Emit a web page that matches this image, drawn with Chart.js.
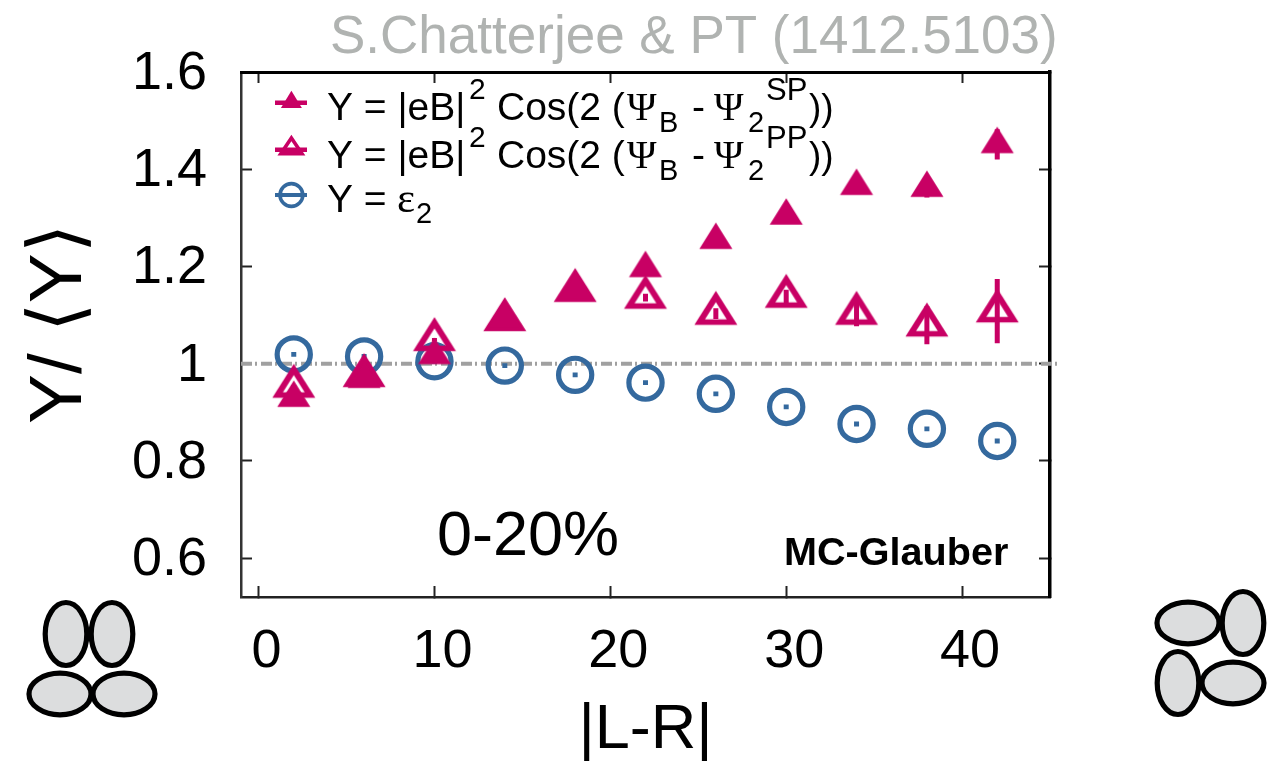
<!DOCTYPE html>
<html>
<head>
<meta charset="utf-8">
<title>Y / mean Y vs |L-R|</title>
<script src="https://cdn.jsdelivr.net/npm/chart.js@4/dist/chart.umd.js"></script>
<style>
    html, body { margin: 0; padding: 0; background: #fff; }
    canvas { display: block; }
</style>
</head>
<body>
<canvas id="chart" width="1286" height="768"></canvas>
<script>
// values
var lrValues = [2, 6, 10, 14, 18, 22, 26, 30, 34, 38, 42];
var spValues = [0.929, 0.968, 1.017, 1.090, 1.150, 1.196, 1.254, 1.304, 1.365, 1.361, 1.451];
var spErrors = [0.003, 0.003, 0.004, 0.004, 0.005, 0.008, 0.010, 0.012, 0.015, 0.019, 0.031];
var ppValues = [0.953, 0.975, 1.049, 1.090, 1.150, 1.136, 1.103, 1.138, 1.103, 1.079, 1.108];
var ppErrors = [0.003, 0.003, 0.004, 0.005, 0.006, 0.008, 0.011, 0.014, 0.026, 0.039, 0.066];
var eccValues = [1.019, 1.015, 1.005, 0.996, 0.977, 0.961, 0.938, 0.911, 0.876, 0.866, 0.841];
var eccErrors = [0.005, 0.005, 0.005, 0.005, 0.005, 0.005, 0.005, 0.005, 0.005, 0.005, 0.005];
var refLineX = [-1, 45.5];
var refLineY = [1, 1];

var xTicks = [0, 10, 20, 30, 40];
var yTicks = [0.6, 0.8, 1, 1.2, 1.4, 1.6];
var yTickLabels = ['0.6', '0.8', '1', '1.2', '1.4', '1.6'];

var MAGENTA = '#c80064';
var BLUE = '#34699e';
var FONT = '"Liberation Sans", Arial, sans-serif';
var SERIF = '"Liberation Serif", "DejaVu Serif", serif';

Chart.defaults.font.family = FONT;
Chart.defaults.color = '#000';

// gnuplot triangles are wider than equilateral ones, so build the marker here.
// The middle of the canvas is the data point, which sits low in the triangle.
function triangleMarker(halfWidth, up, down, lineWidth) {
    var size = Math.ceil(2 * Math.max(halfWidth, up, down)) + 2;
    var c = document.createElement('canvas');
    c.width = size;
    c.height = size;
    var ctx = c.getContext('2d');
    ctx.translate(size / 2, size / 2);
    trianglePath(ctx, halfWidth, up, down, lineWidth);
    return c;
}

function trianglePath(ctx, halfWidth, up, down, lineWidth) {
    ctx.beginPath();
    ctx.moveTo(0, -up);
    ctx.lineTo(halfWidth, down);
    ctx.lineTo(-halfWidth, down);
    ctx.closePath();
    ctx.fillStyle = MAGENTA;
    ctx.fill();
    if (lineWidth) {
        // punch out the middle
        var k = 1 - lineWidth / ((up + down) / 3);
        var cy = (-up + down + down) / 3;
        ctx.globalCompositeOperation = 'destination-out';
        ctx.beginPath();
        ctx.moveTo(0, cy + (-up - cy) * k);
        ctx.lineTo(halfWidth * k, cy + (down - cy) * k);
        ctx.lineTo(-halfWidth * k, cy + (down - cy) * k);
        ctx.closePath();
        ctx.fill();
        ctx.globalCompositeOperation = 'source-over';
    }
}

var filledMarker = triangleMarker(16.5, 17.7, 8.8, 0);
var hollowMarker = triangleMarker(21.5, 22.7, 11.3, 5.6);

// error bars as short line pieces, split by empty points
function errorBars(values, errors) {
    var pts = [];
    lrValues.forEach(function(x, i) {
        pts.push({ x: x, y: values[i] - errors[i] });
        pts.push({ x: x, y: values[i] + errors[i] });
        pts.push({ x: x, y: null });
    });
    return pts;
}

function points(values) {
    return lrValues.map(function(x, i) { return { x: x, y: values[i] }; });
}

function barDataset(values, errors, color, order) {
    return {
        type: 'line',
        data: errorBars(values, errors),
        borderColor: color,
        borderWidth: 5,
        pointRadius: 0,
        spanGaps: false,
        order: order
    };
}

function drawText(ctx, text, x, y, size, font) {
    ctx.font = (font && font.bold ? 'bold ' : '') + size + 'px ' + (font && font.family ? font.family : FONT);
    ctx.fillText(text, x, y);
}

function drawLegendRow(ctx, y, sup) {
    drawText(ctx, 'Y = |eB|', 327, y, 39);
    drawText(ctx, '2', 469, y - 21, 30);
    drawText(ctx, 'Cos(2 (', 497, y, 39);
    drawText(ctx, 'Ψ', 627, y, 40, { family: SERIF });
    drawText(ctx, 'B', 659, y + 12, 29);
    drawText(ctx, '-', 692, y, 39);
    drawText(ctx, 'Ψ', 714, y, 40, { family: SERIF });
    drawText(ctx, '2', 748, y + 12, 29);
    drawText(ctx, sup, 766, y - 20, 31);
    drawText(ctx, '))', 809, y, 37);
}

function drawEllipse(ctx, x, y, rx, ry) {
    ctx.beginPath();
    ctx.ellipse(x, y, rx, ry, 0, 0, Math.PI * 2);
    ctx.fillStyle = '#dcddde';
    ctx.fill();
    ctx.lineWidth = 5.2;
    ctx.strokeStyle = '#000';
    ctx.stroke();
}

// everything that is not a data mark: title, legend, notes, the two sketches
var overlay = {
    id: 'overlay',
    afterDraw: function(chart) {
        var ctx = chart.ctx;
        ctx.save();
        ctx.textAlign = 'left';
        ctx.textBaseline = 'alphabetic';

        ctx.fillStyle = '#b0b3b1';
        drawText(ctx, 'S.Chatterjee & PT (1412.5103)', 330, 53, 53);

        ctx.fillStyle = '#000';
        drawText(ctx, '0-20%', 437, 555, 63);
        drawText(ctx, 'MC-Glauber', 784, 565, 39.6, { bold: true });

        drawLegendRow(ctx, 120, 'SP');
        drawLegendRow(ctx, 168, 'PP');
        drawText(ctx, 'Y = ', 327, 212, 39);
        drawText(ctx, 'ε', 397, 212, 43, { family: SERIF });
        drawText(ctx, '2', 416, 223, 29);

        // legend markers
        ctx.fillStyle = MAGENTA;
        ctx.fillRect(275, 100.5, 32, 4.5);
        ctx.fillRect(275, 147.5, 32, 4.5);
        ctx.save();
        ctx.translate(291.4, 102);
        trianglePath(ctx, 10.5, 11.3, 6, 0);
        ctx.restore();
        ctx.lineWidth = 3.6;
        ctx.strokeStyle = MAGENTA;
        ctx.lineJoin = 'miter';
        ctx.beginPath();
        ctx.moveTo(291.4, 138);
        ctx.lineTo(302, 153.8);
        ctx.lineTo(280.8, 153.8);
        ctx.closePath();
        ctx.stroke();
        ctx.strokeStyle = BLUE;
        ctx.beginPath();
        ctx.arc(291.4, 195, 11.4, 0, Math.PI * 2);
        ctx.stroke();
        ctx.fillStyle = BLUE;
        ctx.fillRect(275, 193, 32, 4);

        // left sketch
        drawEllipse(ctx, 66, 634, 20.8, 31.5);
        drawEllipse(ctx, 112, 634, 20.8, 31.5);
        drawEllipse(ctx, 60, 694, 31, 20.8);
        drawEllipse(ctx, 124, 694, 31, 20.8);
        // right sketch
        drawEllipse(ctx, 1188, 623, 31, 20.8);
        drawEllipse(ctx, 1243, 623, 20.8, 31.5);
        drawEllipse(ctx, 1178, 683, 20.8, 31.5);
        drawEllipse(ctx, 1233, 683, 31, 20.8);
        ctx.restore();
    }
};

function axisGrid() {
    return { drawOnChartArea: false, drawTicks: true, tickLength: -11, tickWidth: 2, tickColor: '#222' };
}

var ctx = document.getElementById('chart').getContext('2d');
new Chart(ctx, {
    type: 'line',
    data: {
        datasets: [
            {
                label: 'SP',
                data: points(spValues),
                showLine: false,
                pointStyle: filledMarker,
                order: 1
            },
            barDataset(spValues, spErrors, MAGENTA, 2),
            {
                label: 'PP',
                data: points(ppValues),
                showLine: false,
                pointStyle: hollowMarker,
                order: 3
            },
            barDataset(ppValues, ppErrors, MAGENTA, 4),
            {
                label: 'ecc',
                data: points(eccValues),
                showLine: false,
                pointStyle: 'circle',
                pointRadius: 16.6,
                pointBorderWidth: 5.2,
                pointBorderColor: BLUE,
                pointBackgroundColor: 'rgba(0,0,0,0)',
                order: 5
            },
            barDataset(eccValues, eccErrors, BLUE, 6),
            {
                label: 'one',
                data: refLineX.map(function(x, i) { return { x: x, y: refLineY[i] }; }),
                borderColor: '#a0a0a0',
                borderWidth: 4,
                borderDash: [11, 3, 2, 4],
                pointRadius: 0,
                clip: false,
                order: 7
            }
        ]
    },
    options: {
        responsive: false,
        animation: false,
        layout: { padding: 0 },
        plugins: { legend: { display: false }, title: { display: false }, tooltip: { enabled: false } },
        scales: {
            x: {
                type: 'linear',
                position: 'bottom',
                min: -1,
                max: 45,
                afterBuildTicks: function(s) { s.ticks = xTicks.map(function(v) { return { value: v }; }); },
                afterFit: function(s) { s.height = 171; },
                border: { color: '#222', width: 2.5 },
                grid: axisGrid(),
                ticks: {
                    font: { size: 54 },
                    color: '#000',
                    padding: 34,
                    labelOffset: 8,
                    maxRotation: 0,
                    autoSkip: false,
                    callback: function(v) { return String(v); }
                },
                title: { display: true, text: '|L-R|', font: { size: 63 }, color: '#000', padding: 0 }
            },
            y: {
                type: 'linear',
                position: 'left',
                min: 0.52,
                max: 1.6,
                afterBuildTicks: function(s) { s.ticks = yTicks.map(function(v) { return { value: v }; }); },
                // tick padding also adds to the top margin unless it is cleared here
                afterFit: function(s) { s.width = 241; s.paddingTop = 0; s.paddingBottom = 0; },
                border: { color: '#333', width: 2.5 },
                grid: axisGrid(),
                ticks: {
                    font: { size: 54 },
                    color: '#000',
                    padding: 45,
                    labelOffset: 2,
                    autoSkip: false,
                    callback: function(v) { return yTickLabels[yTicks.indexOf(v)]; }
                },
                // leading space lifts the centred label to where it sits in the original
                title: { display: true, text: ' Y/ ⟨Y⟩', font: { size: 75 }, color: '#000', padding: { top: 15, bottom: 0 } }
            },
            xTop: {
                type: 'linear',
                position: 'top',
                min: -1,
                max: 45,
                afterBuildTicks: function(s) { s.ticks = xTicks.map(function(v) { return { value: v }; }); },
                afterFit: function(s) { s.height = 72; },
                border: { color: '#000', width: 3 },
                grid: axisGrid(),
                ticks: { display: false }
            },
            yRight: {
                type: 'linear',
                position: 'right',
                min: 0.52,
                max: 1.6,
                afterBuildTicks: function(s) { s.ticks = yTicks.map(function(v) { return { value: v }; }); },
                afterFit: function(s) { s.width = 236; },
                border: { color: '#000', width: 3.5 },
                grid: axisGrid(),
                ticks: { display: false }
            }
        }
    },
    plugins: [overlay]
});
</script>
</body>
</html>
